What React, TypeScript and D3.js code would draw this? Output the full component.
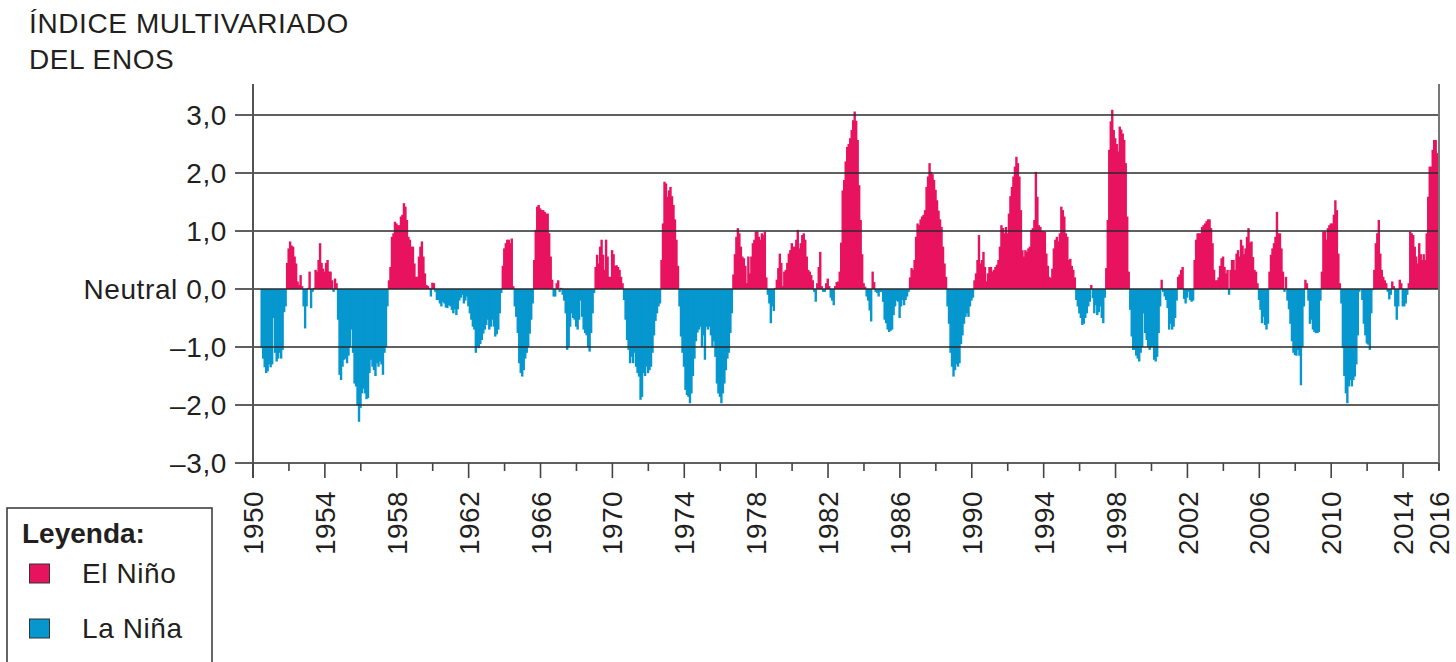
import React from 'react';
import * as d3 from 'd3';

// Índice multivariado del ENOS, valores mensuales
const mei1950s = [
  -1.02, -1.2, -1.35, -1.45, -1.42, -1.3, -1.35, // 1950 (jun-dic)
  -1.3, -0.5, -1.1, -1.25, -1.2, -1.1, -1.2, -1.05, -0.4, -0.3, 0.45, 0.7,
  0.82, 0.75, 0.73, 0.56, 0.44, 0.13, 0.07, 0.24, 0.05, -0.3, -0.68, -0.3,
  0.02, 0.3, -0.33, -0.05, 0.02, 0.33, 0.3, 0.5, 0.79, 0.45, 0.35, 0.3,
  0.45, 0.5, 0.3, 0.3, 0.15, -0.05, 0.18, 0.1, -0.53, -1.48, -1.57, -1.34,
  -1.22, -1.2, -1.28, -1.15, -1.0, -0.7, -1.1, -1.63, -1.68, -2.0, -2.29, -2.05,
  -1.8, -1.72, -1.8, -1.9, -1.88, -1.45, -1.22, -1.34, -1.4, -1.5, -1.28, -1.34,
  -1.25, -1.3, -1.48, -1.1, -1.0, -0.3, 0.15, 0.38, 0.9, 0.96, 1.16, 1.13,
  1.1, 1.1, 1.25, 1.28, 1.48, 1.42, 1.19, 0.9, 0.85, 0.73, 0.73, 0.44,
  0.21, 0.21, 0.56, 0.73, 0.82, 0.56, 0.27, 0.07, 0.05, 0.02, -0.13, 0.11,
];
const mei1960s = [
  0.1, -0.05, -0.19, -0.19, -0.25, -0.3, -0.22, -0.25, -0.32, -0.33, -0.28, -0.3,
  -0.36, -0.42, -0.35, -0.45, -0.35, -0.2, -0.15, -0.1, -0.25, -0.2, -0.13, -0.3,
  -0.42, -0.53, -0.65, -0.7, -1.1, -1.0, -1.02, -0.95, -0.88, -0.77, -0.7, -0.62,
  -0.53, -0.7, -0.65, -0.53, -0.65, -0.82, -0.78, -0.7, -0.42, -0.07, 0.4, 0.7,
  0.79, 0.85, 0.85, 0.79, 0.87, 0.05, -0.3, -0.48, -0.76, -1.28, -1.45, -1.51,
  -1.4, -1.2, -1.1, -1.0, -0.77, -0.53, -0.25, 0.5, 1.02, 1.42, 1.45, 1.39,
  1.36, 1.36, 1.33, 1.3, 1.3, 0.96, 0.56, 0.16, -0.13, -0.13, 0.1, 0.15,
  -0.05, 0.02, -0.1, -0.2, -0.42, -1.05, -1.0, -0.65, -0.42, -0.5, -0.53, -0.65,
  -0.7, -0.53, -0.2, -0.48, -0.7, -0.76, -0.8, -1.0, -1.08, -0.76, -0.42, -0.07,
  0.38, 0.59, 0.44, 0.73, 0.85, 0.59, 0.33, 0.85, 0.56, 0.21, 0.21, 0.67,
];
const mei1970s = [
  0.6, 0.4, 0.41, 0.38, 0.33, 0.21, 0.1, -0.19, -0.53, -0.88, -1.05, -1.28,
  -1.17, -1.28, -1.1, -1.34, -1.45, -1.51, -1.91, -1.86, -1.45, -1.5, -1.34, -1.45,
  -1.4, -1.34, -1.1, -0.8, -0.55, -0.42, -0.3, -0.25, 0.5, 1.13, 1.85, 1.82,
  1.59, 1.7, 1.76, 1.6, 1.45, 1.2, 0.85, 0.4, -0.3, -0.82, -1.1, -1.34,
  -1.74, -1.83, -1.86, -1.97, -1.8, -1.5, -1.2, -0.9, -0.75, -0.7, -0.65, -1.0,
  -0.8, -1.22, -0.65, -0.7, -0.65, -0.8, -1.0, -0.9, -1.17, -1.63, -1.8, -1.86,
  -1.97, -1.8, -1.63, -1.4, -1.2, -1.1, -0.76, -0.42, 0.25, 0.6, 0.9, 1.05,
  0.96, 0.73, 0.56, 0.53, 0.4, 0.1, 0.56, 0.27, 0.56, 0.79, 0.85, 0.99,
  0.99, 0.9, 0.85, 0.96, 0.93, 0.99, 0.2, -0.1, -0.25, -0.59, -0.3, -0.38,
  0.02, 0.16, 0.36, 0.61, 0.45, 0.05, 0.3, 0.33, 0.45, 0.61, 0.67, 0.79,
];
const mei1980s = [
  0.73, 0.73, 0.85, 1.02, 0.7, 0.79, 0.93, 0.96, 0.85, 0.56, 0.33, 0.3,
  0.24, 0.15, -0.05, -0.22, 0.1, 0.38, 0.64, 0.05, -0.05, -0.05, 0.1, 0.18,
  0.05, -0.15, -0.2, -0.28, 0.05, 0.12, 0.13, 0.3, 0.8, 1.7, 1.88, 2.2,
  2.45, 2.5, 2.6, 2.74, 2.91, 3.06, 2.9, 2.57, 1.79, 1.19, 0.6, 0.1,
  0.04, -0.13, -0.2, -0.37, -0.56, 0.3, 0.12, -0.05, -0.07, -0.13, -0.05, -0.05,
  -0.22, -0.53, -0.59, -0.7, -0.74, -0.72, -0.7, -0.45, -0.3, -0.2, -0.22, -0.5,
  -0.3, -0.19, -0.28, -0.19, -0.13, -0.05, 0.2, 0.36, 0.33, 0.5, 0.9, 1.13,
  1.1, 1.2, 1.25, 1.28, 1.36, 1.76, 1.94, 2.17, 2.02, 1.98, 1.88, 1.71,
  1.53, 1.35, 1.2, 1.07, 0.73, 0.44, 0.21, -0.3, -0.6, -1.1, -1.34, -1.51,
  -1.4, -1.3, -1.34, -1.28, -0.95, -0.8, -0.6, -0.48, -0.42, -0.48, -0.3, -0.2,
];
const mei1990s = [
  -0.15, 0.15, 0.27, 0.5, 0.93, 0.44, 0.5, 0.64, 0.38, 0.13, 0.27, 0.38,
  0.38, 0.3, 0.33, 0.38, 0.42, 0.5, 0.73, 1.1, 1.05, 0.96, 1.07, 0.96,
  1.3, 1.6, 1.76, 1.94, 2.11, 2.28, 2.17, 1.94, 1.36, 0.67, 0.56, 0.67,
  0.64, 0.7, 0.73, 1.02, 1.05, 1.19, 2.02, 1.59, 1.1, 1.07, 1.0, 1.0,
  0.99, 0.61, 0.4, 0.21, 0.19, 0.35, 0.7, 0.85, 0.9, 0.82, 0.96, 1.42,
  1.36, 1.25, 0.96, 0.9, 0.5, 0.52, 0.4, 0.33, 0.2, -0.19, -0.3, -0.42,
  -0.5, -0.62, -0.6, -0.5, -0.42, -0.3, -0.22, 0.07, -0.16, -0.42, -0.28, -0.45,
  -0.4, -0.3, -0.5, -0.59, -0.15, 0.36, 1.19, 2.4, 2.89, 3.09, 2.74, 2.6,
  2.5, 2.37, 2.8, 2.75, 2.68, 2.57, 2.17, 1.25, 0.3, -0.36, -0.82, -1.05,
  -1.05, -1.15, -1.2, -1.25, -1.1, -1.0, -0.42, -0.76, -0.88, -1.0, -1.05, -1.0,
];
const mei2000s = [
  -1.0, -1.22, -1.25, -1.17, -0.76, -0.3, 0.16, -0.05, -0.13, -0.19, -0.33, -0.7,
  -0.6, -0.7, -0.65, -0.5, -0.2, 0.21, 0.25, 0.33, 0.38, -0.17, -0.25, -0.15,
  -0.05, -0.19, -0.22, -0.2, 0.5, 0.85, 0.96, 0.96, 0.96, 1.07, 1.1, 1.13,
  1.17, 1.2, 1.2, 1.05, 0.79, 0.33, 0.15, 0.15, 0.2, 0.4, 0.53, 0.56,
  0.38, 0.27, 0.33, -0.1, 0.33, 0.5, 0.5, 0.33, 0.61, 0.67, 0.56, 0.85,
  0.75, 0.6, 0.7, 0.9, 1.05, 0.8, 0.82, 0.55, 0.33, 0.3, 0.1, -0.19,
  -0.36, -0.59, -0.48, -0.62, -0.7, -0.6, 0.3, 0.59, 0.7, 0.79, 0.9, 1.33,
  0.96, 0.96, 0.7, 0.3, -0.05, 0.21, -0.2, -0.35, -0.6, -0.9, -1.1, -1.14,
  -1.15, -1.05, -1.15, -1.66, -1.0, -0.3, 0.16, 0.1, -0.2, -0.6, -0.53, -0.7,
  -0.74, -0.76, -0.76, -0.74, -0.2, 0.3, 0.99, 0.99, 0.85, 1.05, 1.1, 1.13,
];
const mei2010s = [
  1.13, 1.28, 1.53, 1.36, 0.61, 0.1, -0.25, -1.02, -1.5, -1.8, -1.97, -1.68,
  -1.57, -1.68, -1.57, -1.51, -1.3, -0.8, -0.05, 0.0, -0.19, -0.6, -0.8, -0.94,
  -0.96, -1.05, -0.42, -0.02, 0.33, 0.79, 0.96, 1.19, 0.61, 0.33, 0.21, 0.15,
  0.1, -0.05, -0.18, -0.1, 0.13, 0.05, -0.3, -0.53, -0.3, 0.16, 0.1, -0.3,
  -0.3, -0.25, -0.1, 0.1, 0.99, 0.96, 0.93, 0.73, 0.56, 0.44, 0.79, 0.6,
  0.5, 0.6, 0.5, 0.96, 1.59, 2.11, 2.11, 2.4, 2.57, 2.57, 2.34, 2.35,
];

// inicio de cada serie (año decimal)
const seriesStarts = [1950 + 5 / 12, 1960, 1970, 1980, 1990, 2000, 2010];
const seriesValues = [mei1950s, mei1960s, mei1970s, mei1980s, mei1990s, mei2000s, mei2010s];

const titleLines = ['ÍNDICE MULTIVARIADO', 'DEL ENOS'];
const yTicks = [3, 2, 1, 0, -1, -2, -3];
const yTickLabels = ['3,0', '2,0', '1,0', 'Neutral 0,0', '–1,0', '–2,0', '–3,0'];
const xLabelYears = [1950, 1954, 1958, 1962, 1966, 1970, 1974, 1978, 1982, 1986, 1990, 1994, 1998, 2002, 2006, 2010, 2014, 2016];
const legendLabels = ['El Niño', 'La Niña'];

const PINK = '#e8135f';
const BLUE = '#0797cf';
const INK = '#231f20';
const FONT = '"Liberation Sans", Arial, Helvetica, sans-serif';

export default function App() {
  const width = 1456;
  const height = 662;
  const left = 253;
  const right = 1439;
  const top = 84;

  const x = d3.scaleLinear().domain([1950, 2016]).range([left, right]);
  const y = d3.scaleLinear().domain([3, -3]).range([115, 463]);

  const bars: { t: number; v: number }[] = [];
  seriesValues.forEach((vals, s) => {
    vals.forEach((v, i) => bars.push({ t: seriesStarts[s] + i / 12, v }));
  });

  const tickYears = d3.range(1950, 2017, 2);
  const legendColors = [PINK, BLUE];

  return (
    <svg width={width} height={height} style={{ position: 'absolute', left: 0, top: 0, background: '#fff' }} fontFamily={FONT}>
      {titleLines.map((t, i) => (
        <text key={t} x={29} y={33 + i * 36} fontSize={28} letterSpacing={0.6} fill={INK}>{t}</text>
      ))}

      {/* barras */}
      <g>
        {bars.map((d, i) => {
          const x0 = x(d.t);
          // última barra termina en el eje derecho
          const x1 = Math.min(right, x(d.t + 1 / 12) + 0.9);
          const y0 = y(Math.max(0, d.v));
          const h = Math.abs(y(d.v) - y(0));
          return <rect key={i} x={x0} y={y0} width={x1 - x0} height={h} fill={d.v >= 0 ? PINK : BLUE} />;
        })}
      </g>

      {/* líneas de cuadrícula y etiquetas del eje Y */}
      {yTicks.map((t, i) => (
        <g key={t}>
          <line x1={235} x2={right} y1={y(t)} y2={y(t)} stroke="#2b2b2b" strokeWidth={1.6} />
          <text x={227} y={y(t)} dy="0.36em" textAnchor="end" fontSize={28} letterSpacing={0.6} fill={INK}>{yTickLabels[i]}</text>
        </g>
      ))}

      {/* ejes verticales */}
      <line x1={left} x2={left} y1={top} y2={478} stroke="#555" strokeWidth={2} />
      <line x1={right} x2={right} y1={top} y2={470} stroke="#777" strokeWidth={2} />

      {/* marcas y etiquetas del eje X */}
      {tickYears.map((yr) => {
        const major = (yr - 1950) % 4 === 0;
        return <line key={yr} x1={x(yr)} x2={x(yr)} y1={y(-3)} y2={major ? 478 : 471} stroke="#444" strokeWidth={1.6} />;
      })}
      {xLabelYears.map((yr) => (
        <text key={yr} transform={`translate(${x(yr)},491) rotate(-90)`} dy="0.36em" textAnchor="end" fontSize={28} letterSpacing={0.4} fill={INK}>{yr}</text>
      ))}

      {/* leyenda */}
      <rect x={7} y={508} width={205} height={200} fill="none" stroke="#333" strokeWidth={1.5} />
      <text x={22} y={543} fontSize={28} fontWeight="bold" fill={INK}>Leyenda:</text>
      {legendLabels.map((l, i) => (
        <g key={l}>
          <rect x={29.5} y={564 + i * 55} width={20} height={19} fill={legendColors[i]} stroke="#333" strokeWidth={1} />
          <text x={82} y={583 + i * 55} fontSize={28} letterSpacing={0.6} fill={INK}>{l}</text>
        </g>
      ))}
    </svg>
  );
}
